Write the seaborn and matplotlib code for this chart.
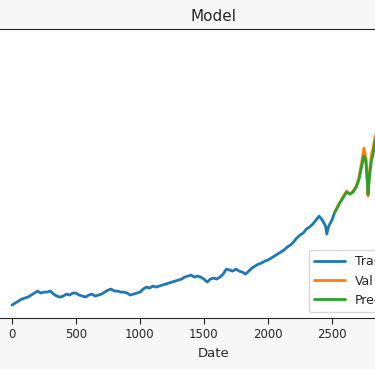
import pandas as pd
import seaborn as sns
import matplotlib.pyplot as plt
import numpy as np

sns.set_style("ticks")

# values (index, closing price)
train_x = [0, 25, 50, 75, 100, 125, 150, 175, 200, 225, 250, 275, 300, 325, 350, 375,
           400, 425, 450, 475, 500, 525, 550, 575, 600, 625, 650, 675, 700, 725, 750,
           775, 800, 825, 850, 875, 900, 925, 950, 975, 1000, 1025, 1050, 1075, 1100,
           1125, 1150, 1175, 1200, 1225, 1250, 1275, 1300, 1325, 1350, 1375, 1400,
           1425, 1450, 1475, 1500, 1525, 1550, 1575, 1600, 1625, 1650, 1675, 1700,
           1725, 1750, 1775, 1800, 1825, 1850, 1875, 1900, 1925, 1950, 1975, 2000,
           2025, 2050, 2075, 2100, 2125, 2150, 2175, 2200, 2225, 2250, 2275, 2300,
           2325, 2350, 2375, 2400, 2425, 2450, 2460, 2475, 2500, 2523]
train_y = [6.5, 7.5, 8.5, 9.5, 10, 10.5, 11.5, 12.5, 13.5, 12.5, 13, 13, 13.5, 12, 11,
           10.5, 11, 12, 11.5, 12.5, 12.5, 11.5, 11, 10.5, 11.5, 12, 11, 11.5, 12, 13,
           14, 14.5, 13.5, 13.5, 13, 13, 12.5, 11.5, 12, 12.5, 13, 14.5, 15.5, 15, 16,
           15.5, 16, 16.5, 17, 17.5, 18, 18.5, 19, 19.5, 20.5, 21, 21.5, 20.5, 21, 20.5,
           19.5, 18, 19.5, 20, 19.5, 20.5, 22, 24.5, 24, 23.5, 24.5, 23.5, 23, 22, 23.5,
           25, 26, 27, 27.5, 28.5, 29, 30, 31, 32, 33, 34, 35.5, 36.5, 38, 40, 41.5,
           42.5, 44.5, 45.5, 47, 49, 51, 49, 46, 42, 46, 49, 53]

valid_x = [2523, 2545, 2565, 2590, 2615, 2640, 2665, 2690, 2710, 2730, 2750, 2765,
           2775, 2782, 2795, 2810, 2822, 2836, 2860, 2880, 2900, 2925, 2950, 2975,
           3000, 3025, 3050, 3075, 3100, 3125, 3149]
valid_y = [53, 56, 58, 61, 63.5, 62, 63.5, 66, 70, 77, 85, 80, 70, 61, 74, 82, 85,
           90.5, 94, 100, 97, 92, 98, 104, 110, 107, 116, 121, 118, 126, 134]
pred_y = [53, 55.5, 58, 60.5, 63, 62, 63, 65.5, 69, 75, 81, 79, 70, 62, 72, 79, 82,
          88, 92, 97, 96, 92, 96.5, 102, 107, 106, 113, 118, 117, 123, 130]

fig = plt.figure(figsize=(3.75, 3.69), dpi=100, facecolor="#f7f7f7")
ax = fig.add_axes([-0.0217, 0.138, 1.182, 0.783])

sns.lineplot(x=train_x, y=train_y, ax=ax, label="Train", color="#1f77b4", linewidth=2)
sns.lineplot(x=valid_x, y=valid_y, ax=ax, label="Val", color="#ff7f0e", linewidth=2)
sns.lineplot(x=valid_x, y=pred_y, ax=ax, label="Predictions", color="#2ca02c", linewidth=2)

ax.set_ylim(0, 144.5)
ax.set_xticks([0, 500, 1000, 1500, 2000, 2500])
ax.set_yticks([])
ax.tick_params(axis="x", labelsize=8.5, length=4)
ax.set_title("Model", fontsize=11)
ax.set_xlabel("Date", fontsize=9.5)
ax.legend(loc="lower right", fontsize=9, handlelength=2.5)

fig.savefig("out.png", dpi=100, facecolor=fig.get_facecolor())
